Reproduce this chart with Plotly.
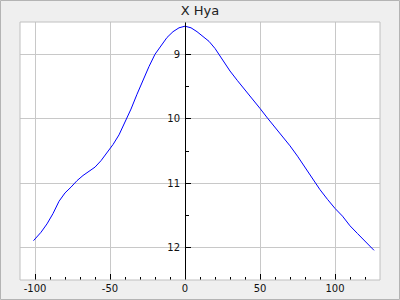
import plotly.graph_objects as go

phase = [-101, -96, -92, -88, -84, -80, -76, -72, -68, -64, -60, -56, -52, -48, -44, -40,
         -36, -32, -28, -24, -20, -16, -12, -8, -4, 0, 4, 8, 12, 16, 20, 25, 30, 35, 40,
         45, 50, 55, 60, 65, 70, 75, 80, 85, 90, 95, 100, 105, 110, 115, 120, 126]
mag = [11.89, 11.76, 11.63, 11.47, 11.28, 11.15, 11.06, 10.96, 10.88, 10.82, 10.75, 10.65,
       10.53, 10.40, 10.25, 10.06, 9.85, 9.62, 9.40, 9.19, 9.00, 8.86, 8.74, 8.65, 8.59,
       8.565, 8.59, 8.65, 8.73, 8.80, 8.91, 9.09, 9.26, 9.41, 9.55, 9.70, 9.84, 9.99,
       10.13, 10.28, 10.42, 10.58, 10.76, 10.93, 11.10, 11.25, 11.39, 11.51, 11.66,
       11.78, 11.90, 12.04]

x_ticks = [-100, -50, 0, 50, 100]
x_labels = ["-100", "-50", "0", "50", "100"]
y_ticks = [9, 10, 11, 12]
y_labels = ["9", "10", "11", "12"]

XMIN, XMAX = -110, 130

fig = go.Figure()
fig.add_trace(go.Scatter(x=phase, y=mag, mode="lines",
                         line=dict(color="#0000ff", width=1), showlegend=False))

font = dict(family="DejaVu Sans", size=10, color="#111111")

fig.update_layout(
    width=400, height=300,
    margin=dict(l=20, r=20, t=22, b=20, autoexpand=False),
    paper_bgcolor="#efefef", plot_bgcolor="#ffffff",
    font=font,
    title=dict(text="X Hya", x=0.5, xanchor="center", y=1 - 10 / 300, yanchor="middle",
               yref="container", font=dict(family="DejaVu Sans", size=13, color="#222222")),
    xaxis=dict(range=[XMIN, XMAX], tickvals=x_ticks, ticktext=x_labels, automargin=False,
               showgrid=True, gridcolor="#c8c8c8", gridwidth=1, zeroline=False,
               ticks="inside", ticklen=6, tickcolor="#000000", tickwidth=1,
               minor=dict(ticks="inside", ticklen=3, dtick=10, tickcolor="#000000", showgrid=False),
               showline=False, tickfont=font, ticklabelstandoff=1),
    yaxis=dict(range=[12.5, 8.5], tickvals=y_ticks, ticktext=y_labels, automargin=False,
               anchor="free", position=(0 - XMIN) / (XMAX - XMIN),
               showgrid=True, gridcolor="#c8c8c8", gridwidth=1, zeroline=False,
               showline=True, linecolor="#000000", linewidth=1,
               ticks="inside", ticklen=5, tickcolor="#000000", tickwidth=1,
               minor=dict(ticks="inside", ticklen=3, dtick=0.5, tickcolor="#000000", showgrid=False),
               ticklabelstandoff=3, tickfont=font),
)

fig.add_shape(type="rect", xref="paper", yref="paper", x0=0, x1=1, y0=0, y1=1,
              line=dict(color="#c0c0c0", width=1), layer="above")
fig.add_shape(type="rect", xref="paper", yref="paper",
              x0=(0.5 - 20) / 360, x1=(399.5 - 20) / 360,
              y0=(280 - 299.5) / 258, y1=(280 - 0.5) / 258,
              line=dict(color="#b4b4b4", width=1), layer="above")

fig.write_html("out.html")
